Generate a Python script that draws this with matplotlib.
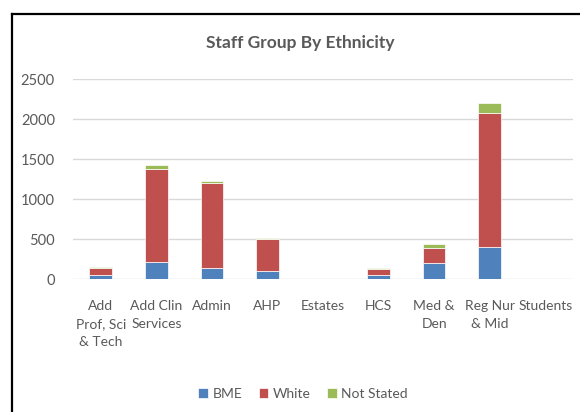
import matplotlib
matplotlib.use('Agg')
import matplotlib.pyplot as plt
import numpy as np

# Data
categories = ['Add\nProf, Sci\n& Tech', 'Add Clin\nServices', 'Admin', 'AHP', 'Estates',
              'HCS', 'Med &\nDen', 'Reg Nur\n& Mid', 'Students']
bme        = [50, 215, 145, 100, 0, 55, 205, 400, 0]
white      = [95, 1160, 1060, 405, 0, 75, 190, 1675, 0]
not_stated = [7, 55, 30, 12, 0, 12, 50, 125, 0]
y_ticks    = [0, 500, 1000, 1500, 2000, 2500]

colors = {'BME': '#4F81BD', 'White': '#C0504D', 'Not Stated': '#9BBB59'}
text_col = '#595959'

plt.rcParams['font.family'] = ['Lato', 'DejaVu Sans']

fig = plt.figure(figsize=(5.8, 4.12), dpi=100)
ax = fig.add_axes([73/580, 1 - 279.3/412, 500/580, 200/412])

x = np.arange(len(categories))
w = 0.41
bme = np.array(bme)
white = np.array(white)
not_stated = np.array(not_stated)
ax.bar(x, bme, w, color=colors['BME'], label='BME', edgecolor='white', linewidth=0.5, zorder=3)
ax.bar(x, white, w, bottom=bme, color=colors['White'], label='White', edgecolor='white', linewidth=0.5, zorder=3)
ax.bar(x, not_stated, w, bottom=bme + white, color=colors['Not Stated'], label='Not Stated',
       edgecolor='white', linewidth=0.5, zorder=3)

ax.set_xlim(-0.5, len(categories) - 0.5)
ax.set_ylim(0, 2500)
ax.set_yticks(y_ticks)
ax.set_xticks(x)
ax.set_xticklabels(categories, linespacing=1.6, va='top')
ax.tick_params(axis='both', length=0, colors=text_col)
ax.tick_params(axis='x', pad=15, labelsize=10)
ax.tick_params(axis='y', pad=13, labelsize=10.5)
ax.yaxis.grid(True, color='#D9D9D9', linewidth=1, zorder=0)
for s in ax.spines.values():
    s.set_visible(False)

fig.text(300/580, 1 - 43/412, 'Staff Group By Ethnicity', ha='center', va='center',
         fontsize=12.5, fontweight='bold', color=text_col)

ax.legend(loc='center', bbox_to_anchor=(303/580, 1 - 394/412), bbox_transform=fig.transFigure,
          ncol=3, frameon=False, fontsize=10, handlelength=0.7, handleheight=0.7,
          handletextpad=0.3, columnspacing=1.2, labelcolor=text_col)

# frame (top and left edges)
fig.add_artist(plt.Line2D([11.5/580, 1], [1 - 13.5/412, 1 - 13.5/412], color='black', linewidth=1.6,
                          transform=fig.transFigure))
fig.add_artist(plt.Line2D([11.5/580, 11.5/580], [0, 1 - 13.5/412], color='black', linewidth=1.6,
                          transform=fig.transFigure))

fig.savefig('out.png', dpi=100, facecolor='white')
